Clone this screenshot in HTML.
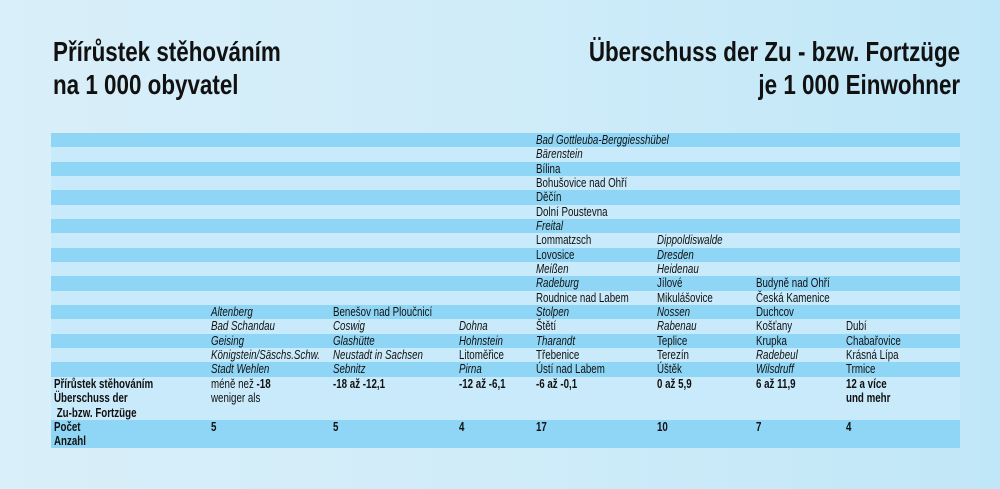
<!DOCTYPE html>
<html><head><meta charset="utf-8"><style>
html,body{margin:0;padding:0}
body{width:1000px;height:489px;position:relative;overflow:hidden;
background:linear-gradient(90deg,#d9eff9 0%,#d0ecf9 50%,#c0e7f8 100%);
font-family:"Liberation Sans",sans-serif;color:#111}
.t{position:absolute;font-weight:bold;font-size:28px;line-height:33px;white-space:nowrap}
.tl{left:53px;top:35px;transform:scaleX(.8);transform-origin:left top}
.tr{right:40px;top:35px;text-align:right;transform:scaleX(.8);transform-origin:right top}
.row{position:absolute;left:51px;width:909px;height:14.33px}
.d{background:#8fd5f5}.l{background:#c9eafa}
.c{position:absolute;font-size:12.5px;line-height:14.33px;white-space:nowrap;transform:scaleX(.78);transform-origin:left top}
i{font-style:italic}
b{font-weight:bold}
</style></head><body>
<div class="t tl">Přírůstek stěhováním<br>na 1 000 obyvatel</div>
<div class="t tr">Überschuss der Zu - bzw. Fortzüge<br>je 1 000 Einwohner</div>

<div class="row d" style="top:133px"></div>
<div class="row l" style="top:147.3px"></div>
<div class="row d" style="top:161.7px"></div>
<div class="row l" style="top:176px"></div>
<div class="row d" style="top:190.3px"></div>
<div class="row l" style="top:204.7px"></div>
<div class="row d" style="top:219px"></div>
<div class="row l" style="top:233.3px"></div>
<div class="row d" style="top:247.7px"></div>
<div class="row l" style="top:262px"></div>
<div class="row d" style="top:276.3px"></div>
<div class="row l" style="top:290.7px"></div>
<div class="row d" style="top:305px"></div>
<div class="row l" style="top:319.3px"></div>
<div class="row d" style="top:333.7px"></div>
<div class="row l" style="top:348px"></div>
<div class="row d" style="top:362.3px"></div>
<div class="row l" style="top:376.7px;height:43.3px"></div>
<div class="row d" style="top:420px;height:28px"></div>

<div class="c" style="left:536px;top:133px"><i>Bad Gottleuba-Berggiesshübel</i><br><i>Bärenstein</i><br>Bílina<br>Bohušovice nad Ohří<br>Děčín<br>Dolní Poustevna<br><i>Freital</i><br>Lommatzsch<br>Lovosice<br><i>Meißen</i><br><i>Radeburg</i><br>Roudnice nad Labem<br><i>Stolpen</i><br>Štětí<br><i>Tharandt</i><br>Třebenice<br>Ústí nad Labem</div>
<div class="c" style="left:657px;top:233.3px"><i>Dippoldiswalde</i><br><i>Dresden</i><br><i>Heidenau</i><br>Jílové<br>Mikulášovice<br><i>Nossen</i><br><i>Rabenau</i><br>Teplice<br>Terezín<br>Úštěk</div>
<div class="c" style="left:756px;top:276.3px">Budyně nad Ohří<br>Česká Kamenice<br>Duchcov<br>Košťany<br>Krupka<br><i>Radebeul</i><br><i>Wilsdruff</i></div>
<div class="c" style="left:846px;top:319.3px">Dubí<br>Chabařovice<br>Krásná Lípa<br>Trmice</div>
<div class="c" style="left:211px;top:305px"><i>Altenberg</i><br><i>Bad Schandau</i><br><i>Geising</i><br><i>Königstein/Säschs.Schw.</i><br><i>Stadt Wehlen</i></div>
<div class="c" style="left:333px;top:305px">Benešov nad Ploučnicí<br><i>Coswig</i><br><i>Glashütte</i><br><i>Neustadt in Sachsen</i><br><i>Sebnitz</i></div>
<div class="c" style="left:459px;top:319.3px"><i>Dohna</i><br><i>Hohnstein</i><br>Litoměřice<br><i>Pirna</i></div>

<div class="c" style="left:54px;top:377px"><b>Přírůstek stěhováním<br>Überschuss der<br>&nbsp;Zu-bzw. Fortzüge</b></div>
<div class="c" style="left:211px;top:377px">méně než <b>-18</b><br>weniger als</div>
<div class="c" style="left:333px;top:377px"><b>-18 až -12,1</b></div>
<div class="c" style="left:459px;top:377px"><b>-12 až -6,1</b></div>
<div class="c" style="left:536px;top:377px"><b>-6 až -0,1</b></div>
<div class="c" style="left:657px;top:377px"><b>0 až 5,9</b></div>
<div class="c" style="left:756px;top:377px"><b>6 až 11,9</b></div>
<div class="c" style="left:846px;top:377px"><b>12 a více<br>und mehr</b></div>
<div class="c" style="left:54px;top:420px"><b>Počet<br>Anzahl</b></div>
<div class="c" style="left:211px;top:420px"><b>5</b></div>
<div class="c" style="left:333px;top:420px"><b>5</b></div>
<div class="c" style="left:459px;top:420px"><b>4</b></div>
<div class="c" style="left:536px;top:420px"><b>17</b></div>
<div class="c" style="left:657px;top:420px"><b>10</b></div>
<div class="c" style="left:756px;top:420px"><b>7</b></div>
<div class="c" style="left:846px;top:420px"><b>4</b></div>
</body></html>
